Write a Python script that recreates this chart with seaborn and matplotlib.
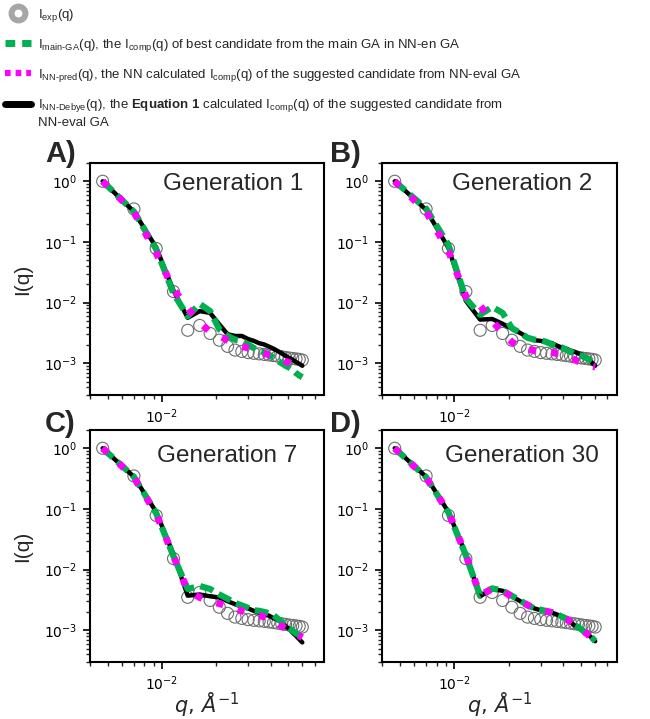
import matplotlib
matplotlib.use("Agg")
import matplotlib.pyplot as plt
import seaborn as sns
from matplotlib.lines import Line2D
from matplotlib.ticker import NullFormatter
from matplotlib.font_manager import FontProperties
from matplotlib.legend_handler import HandlerLine2D

# q grid (1/Angstrom) shared by the experimental and computed curves
q = [0.0047, 0.0070, 0.0093, 0.0116, 0.0139, 0.0162, 0.0185, 0.0208, 0.0231,
     0.0254, 0.0277, 0.0300, 0.0323, 0.0346, 0.0369, 0.0392, 0.0415, 0.0438,
     0.0461, 0.0484, 0.0507, 0.0530, 0.0553, 0.0576, 0.0599]

i_exp = [1.0, 0.35, 0.078, 0.0152, 0.0035, 0.0042, 0.0031, 0.0024, 0.0019,
         0.00165, 0.00157, 0.0015, 0.00146, 0.00143, 0.0014, 0.00137, 0.00134,
         0.00131, 0.00128, 0.00125, 0.00122, 0.0012, 0.00118, 0.00116, 0.00113]

# Generation 1
main_ga_g1 = [1.0, 0.316, 0.0759, 0.0141, 0.00596, 0.00955, 0.00724, 0.00363, 0.00282,
              0.00245, 0.00234, 0.00204, 0.00178, 0.00162, 0.00151, 0.00138, 0.00123,
              0.0011, 0.001, 0.00091, 0.00085, 0.00078, 0.00069, 0.00063, 0.00059]
nn_pred_g1 = [1.0, 0.309, 0.0661, 0.0166, 0.00813, 0.00468, 0.00331, 0.00282, 0.0024,
              0.00214, 0.00191, 0.00178, 0.00166, 0.00155, 0.00145, 0.00138, 0.00135,
              0.00123, 0.00117, 0.00107, 0.00102, 0.00095, 0.00093, 0.00089, 0.00085]
nn_debye_g1 = [1.0, 0.316, 0.0813, 0.0158, 0.00562, 0.00724, 0.00676, 0.00437, 0.00302,
               0.00282, 0.00282, 0.00251, 0.00234, 0.00214, 0.00204, 0.00188, 0.00174,
               0.00159, 0.00146, 0.00132, 0.00122, 0.00114, 0.00105, 0.00098, 0.00091]

# Generation 2
main_ga_g2 = [1.0, 0.355, 0.0891, 0.0117, 0.00631, 0.00851, 0.00676, 0.0038, 0.00316,
              0.00263, 0.00245, 0.0024, 0.00224, 0.00204, 0.00191, 0.00182, 0.00166,
              0.00155, 0.00145, 0.00138, 0.00132, 0.00123, 0.00117, 0.00107, 0.00095]
nn_pred_g2 = [1.0, 0.316, 0.0708, 0.0126, 0.00891, 0.00501, 0.00316, 0.00224, 0.00182,
              0.0017, 0.00162, 0.00158, 0.00155, 0.00151, 0.00145, 0.00141, 0.00132,
              0.00123, 0.00115, 0.00107, 0.00102, 0.00095, 0.00091, 0.00089, 0.00087]
nn_debye_g2 = [1.0, 0.339, 0.0794, 0.0107, 0.00525, 0.00537, 0.00447, 0.00372, 0.00316,
               0.00269, 0.0024, 0.00234, 0.00224, 0.00214, 0.00195, 0.00182, 0.00174,
               0.00162, 0.00155, 0.00145, 0.00138, 0.00126, 0.00117, 0.00102, 0.00091]

# Generation 7
main_ga_g7 = [1.0, 0.339, 0.0851, 0.0166, 0.00479, 0.00537, 0.00479, 0.00389, 0.00331,
              0.00282, 0.00257, 0.00234, 0.00214, 0.00209, 0.002, 0.00191, 0.00178,
              0.00155, 0.00138, 0.00117, 0.00107, 0.00098, 0.00089, 0.00083, 0.00076]
nn_pred_g7 = [1.0, 0.331, 0.0832, 0.0166, 0.00447, 0.00347, 0.00302, 0.00275, 0.00251,
              0.00229, 0.00209, 0.00191, 0.00182, 0.00174, 0.00166, 0.00155, 0.00145,
              0.00132, 0.00117, 0.00107, 0.001, 0.00091, 0.00085, 0.00081, 0.00076]
nn_debye_g7 = [1.0, 0.339, 0.0891, 0.0178, 0.00372, 0.00389, 0.00363, 0.00347, 0.00302,
               0.00269, 0.00245, 0.00229, 0.00209, 0.00195, 0.00182, 0.00174, 0.00158,
               0.00148, 0.00135, 0.00117, 0.00105, 0.00091, 0.00081, 0.00071, 0.00063]

# Generation 30
main_ga_g30 = [1.0, 0.335, 0.087, 0.0172, 0.0037, 0.0049, 0.0045, 0.0037, 0.0031,
               0.0026, 0.0023, 0.00218, 0.00207, 0.00198, 0.00184, 0.00168, 0.00156,
               0.0014, 0.00122, 0.00112, 0.00101, 0.00092, 0.00084, 0.00075, 0.00066]
nn_pred_g30 = [1.0, 0.33, 0.088, 0.0175, 0.0038, 0.0048, 0.0044, 0.0036, 0.003,
               0.0026, 0.0023, 0.00215, 0.00205, 0.00195, 0.00177, 0.00165, 0.00153,
               0.00138, 0.00121, 0.00112, 0.00101, 0.00091, 0.00082, 0.00074, 0.00066]
nn_debye_g30 = [1.0, 0.339, 0.0891, 0.0178, 0.00363, 0.00479, 0.00447, 0.00363, 0.00302,
                0.00257, 0.00229, 0.00214, 0.00204, 0.00195, 0.00182, 0.00166, 0.00155,
                0.00138, 0.0012, 0.0011, 0.001, 0.00091, 0.00083, 0.00074, 0.00066]

generations = ["Generation 1", "Generation 2", "Generation 7", "Generation 30"]
panel_letters = ["A)", "B)", "C)", "D)"]
main_ga = [main_ga_g1, main_ga_g2, main_ga_g7, main_ga_g30]
nn_pred = [nn_pred_g1, nn_pred_g2, nn_pred_g7, nn_pred_g30]
nn_debye = [nn_debye_g1, nn_debye_g2, nn_debye_g7, nn_debye_g30]

legend_labels = [
    r"I$_\text{exp}$(q)",
    r"I$_\text{main-GA}$(q), the I$_\text{comp}$(q) of best candidate from the main GA in NN-en GA",
    r"I$_\text{NN-pred}$(q), the NN calculated I$_\text{comp}$(q) of the suggested candidate from NN-eval GA",
    r"I$_\text{NN-Debye}$(q), the $\mathbf{Equation\ 1}$ calculated I$_\text{comp}$(q) of the suggested candidate from"
    "\nNN-eval GA",
]

GREEN = "#00b050"
PINK = "#ff00ff"
ARIAL = "Liberation Sans"


class FirstLineHandler(HandlerLine2D):
    # put the handle next to the first line of a two-line label
    def create_artists(self, legend, orig_handle, xdescent, ydescent, width,
                       height, fontsize, trans):
        return super().create_artists(legend, orig_handle, xdescent, ydescent - 13,
                                      width, height, fontsize, trans)


sns.set_style("ticks")
plt.rcParams["font.family"] = ["DejaVu Sans"]
plt.rcParams["mathtext.fontset"] = "dejavusans"
plt.rcParams["mathtext.rm"] = ARIAL
plt.rcParams["mathtext.it"] = ARIAL + ":italic"
plt.rcParams["mathtext.bf"] = ARIAL + ":bold"
plt.rcParams["mathtext.sf"] = ARIAL

W, H = 650, 719
fig = plt.figure(figsize=(W / 100, H / 100), dpi=100)

# axes boxes in pixels: left, top, right, bottom
boxes = [(90, 163, 324, 395), (382, 163, 617, 395),
         (90, 430, 324, 662), (382, 430, 617, 662)]
title_pos = [(0.312, 0.884), (0.299, 0.884), (0.286, 0.86), (0.269, 0.86)]
letter_pos = [(45, 162), (330, 162), (45, 432), (330, 432)]

for k in range(4):
    l, t, r, b = boxes[k]
    ax = fig.add_axes([l / W, 1 - b / H, (r - l) / W, (b - t) / H])
    ax.set_xscale("log")
    ax.set_yscale("log")

    sns.scatterplot(x=q, y=i_exp, ax=ax, marker="o", s=75, facecolors="none",
                    edgecolor="#6e6e6e", linewidth=0.8, zorder=1)
    sns.lineplot(x=q, y=nn_debye[k], ax=ax, color="black", linewidth=3.2,
                 zorder=2)
    sns.lineplot(x=q, y=main_ga[k], ax=ax, color=GREEN, linewidth=4.5,
                 linestyle=(0, (2.2, 1.0)), zorder=3)
    sns.lineplot(x=q, y=nn_pred[k], ax=ax, color=PINK, linewidth=5,
                 linestyle=(0, (1.0, 2.2)), zorder=4)

    ax.set_xlim(0.004, 0.079)
    ax.set_ylim(3e-4, 2)
    ax.xaxis.set_minor_formatter(NullFormatter())
    ax.tick_params(which="major", direction="out", length=5, width=1.2,
                   labelsize=10, pad=4, colors="black")
    ax.tick_params(which="minor", direction="out", length=3, width=1.0)
    for sp in ax.spines.values():
        sp.set_linewidth(1.5)
        sp.set_color("black")

    ax.text(title_pos[k][0], title_pos[k][1], generations[k], transform=ax.transAxes,
            ha="left", va="baseline", fontsize=17.5, family=ARIAL)

    if k in (0, 2):
        ax.set_ylabel("I(q)", fontsize=15, family=ARIAL, labelpad=9)
    else:
        ax.set_ylabel("")
    if k in (2, 3):
        ax.set_xlabel(r"$q,\,\AA^{-1}$", fontsize=15, labelpad=-2)
    else:
        ax.set_xlabel("")

    fig.text(letter_pos[k][0] / W, 1 - letter_pos[k][1] / H, panel_letters[k],
             ha="left", va="baseline", fontsize=21, fontweight="bold", family=ARIAL)

handles = [
    Line2D([], [], ls="none", marker="o", ms=10, mfc="none", mec="#a6a6a6", mew=4.3),
    Line2D([], [], color=GREEN, lw=5, ls=(0, (1.4, 1.0))),
    Line2D([], [], color=PINK, lw=4.5, ls=(0, (0.9, 0.8))),
    Line2D([], [], color="black", lw=5),
]
prop = FontProperties(family=ARIAL, size=9.5, math_fontfamily="custom")
leg = fig.legend(handles, legend_labels, loc="upper left",
                 bbox_to_anchor=(2 / W, 1 - 4 / H), frameon=False, prop=prop,
                 handlelength=2.0, handletextpad=0.5, labelspacing=1.0,
                 borderaxespad=0, borderpad=0.2,
                 handler_map={handles[3]: FirstLineHandler()})
for txt in leg.get_texts():
    txt.set_linespacing(1.35)

fig.savefig("out.png", dpi=100)
